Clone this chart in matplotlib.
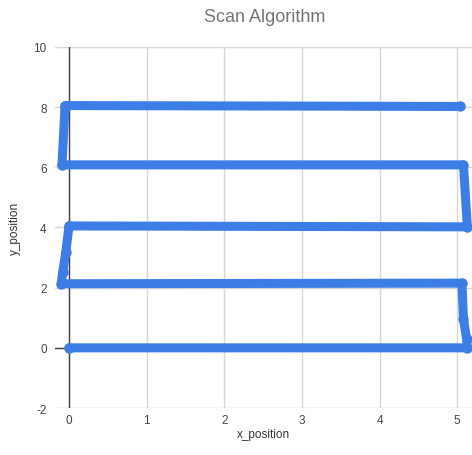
import numpy as np
import matplotlib
matplotlib.use('Agg')
import matplotlib.pyplot as plt

# scan path (x_position, y_position)
x_position = [0.0, 5.13, 5.12, 5.08, 5.06, -0.10, -0.08, -0.04, 0.0, 5.13, 5.08, -0.09, -0.05, 5.03]
y_position = [0.0, 0.0, 0.30, 0.96, 2.15, 2.13, 2.52, 3.19, 4.05, 4.02, 6.08, 6.08, 8.05, 8.02]

x_ticks = [0, 1, 2, 3, 4, 5]
y_ticks = [-2, 0, 2, 4, 6, 8, 10]

plt.rcParams['font.family'] = ['Liberation Sans', 'DejaVu Sans']
plt.rcParams['axes.unicode_minus'] = False

fig = plt.figure(figsize=(4.72, 4.56), dpi=100)
ax = fig.add_axes([0.1165, 0.103, 0.8835, 0.792])

ax.set_xlim(-0.18, 5.19)
ax.set_ylim(-2, 10)
ax.set_xticks(x_ticks)
ax.set_yticks(y_ticks)

for s in ax.spines.values():
    s.set_visible(False)
ax.grid(True, color='#d6d6d6', linewidth=1)
ax.set_axisbelow(True)
ax.axvline(0, color='#444444', linewidth=1, zorder=1)
ax.axhline(0, color='#444444', linewidth=1, zorder=1)

ax.tick_params(axis='x', length=0, pad=4, labelsize=8.5, labelcolor='#444444')
ax.tick_params(axis='y', length=0, pad=6, labelsize=8.5, labelcolor='#444444')

ax.plot(x_position, y_position, color='#3d7de6', linewidth=6.5,
        solid_capstyle='round', solid_joinstyle='round',
        marker='o', markersize=6.5, zorder=3)

ax.set_xlabel('x_position', fontsize=8.5, color='#333333', labelpad=1.5)
ax.set_ylabel('y_position', fontsize=8.5, color='#333333', labelpad=9)
fig.text(0.56, 0.962, 'Scan Algorithm', ha='center', va='center', fontsize=13, color='#757575')

fig.savefig('out.png', dpi=100)
